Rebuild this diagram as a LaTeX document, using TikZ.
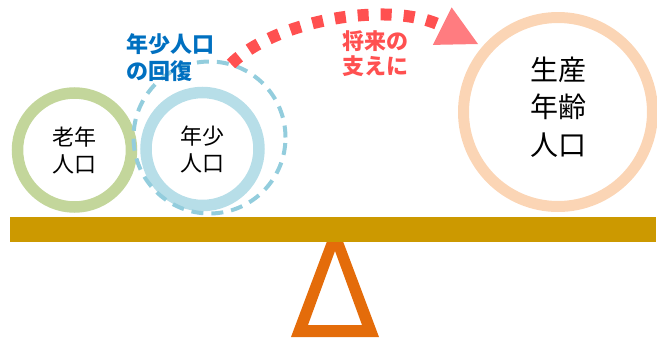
\documentclass[tikz,border=0pt]{standalone}
\usepackage{fontspec}
\setmainfont{Noto Sans CJK JP}
\usetikzlibrary{arrows.meta}
\definecolor{oldgreen}{RGB}{195,214,155}
\definecolor{youngblue}{RGB}{183,222,232}
\definecolor{dashblue}{RGB}{147,205,221}
\definecolor{peach}{RGB}{251,213,181}
\definecolor{beamgold}{RGB}{204,153,0}
\definecolor{fulcrum}{RGB}{228,108,10}
\definecolor{txtblue}{RGB}{0,112,192}
\definecolor{dotred}{RGB}{255,80,80}
\definecolor{tippink}{RGB}{255,124,128}
\tikzset{
  ring/.style={circle, line width=11.5pt, inner sep=0pt, align=center,
    font=\fontsize{22}{27}\selectfont},
  bigtext/.style={align=center, inner sep=0pt, font=\fontsize{28}{37.5}\selectfont},
  bluelabel/.style={align=left, inner sep=0pt, text=txtblue,
    font=\bfseries\fontsize{22}{27}\selectfont},
  redlabel/.style={align=left, inner sep=0pt, text=dotred,
    font=\bfseries\fontsize{22}{25}\selectfont},
  dotarrow/.style={draw=dotred, line width=12pt, dash pattern=on 11pt off 12pt,
    -{Triangle[length=40pt,width=42pt,line width=0pt,fill=tippink,color=tippink]}}
}
\begin{document}
\begin{tikzpicture}[x=1pt,y=-1pt]
\useasboundingbox (0,0) rectangle (657,338);
% fulcrum
\fill[fulcrum, even odd rule] (291,337) -- (379,337) -- (335,220) -- cycle
  (308,325) -- (362,325) -- (335,251) -- cycle;
% beam
\fill[beamgold] (10,217) rectangle (656,242);
% circles
\node[ring, draw=oldgreen, minimum size=114pt] (old) at (74.5,150) {老年\\人口};
\node[ring, draw=youngblue, minimum size=113pt] (young) at (202.5,149) {年少\\人口};
\node[circle, draw=dashblue, line width=4pt, dash pattern=on 12pt off 8pt,
  minimum size=152pt, inner sep=0pt] (recover) at (209.5,137.5) {};
\node[circle, draw=peach, line width=11pt, minimum size=189pt, inner sep=0pt] (work) at (558,112) {};
\node[bigtext] (worktext) at (558.5,107) {生産\\年齢\\人口};
% labels
\node[bluelabel, anchor=west] (recovlabel) at (126,57.5) {年少人口\\の回復};
\node[redlabel, anchor=west] (supportlabel) at (342,53.5) {将来の\\支えに};
% arrow
\coordinate (arrstart) at (231,64);
\coordinate (arrtip) at (478,44);
\draw[dotarrow] (arrstart) .. controls (275,20) and (390,0) .. (arrtip);
\end{tikzpicture}
\end{document}
